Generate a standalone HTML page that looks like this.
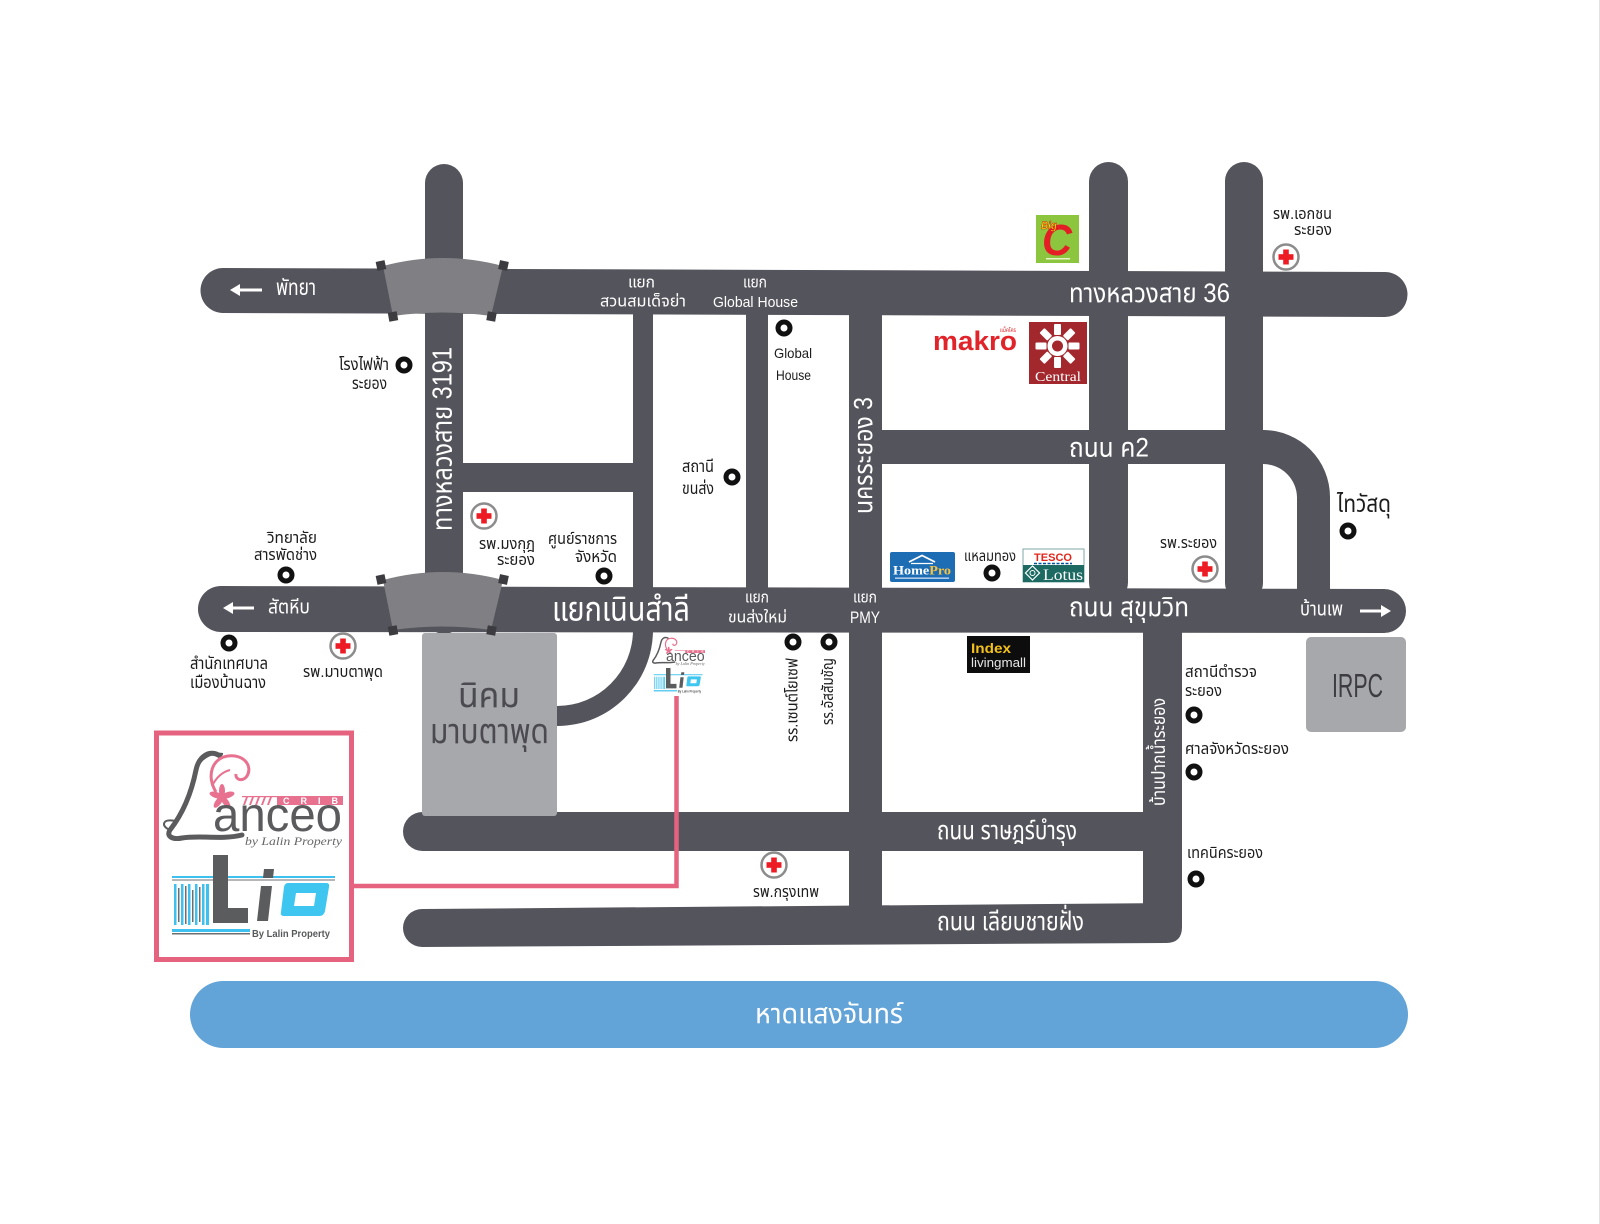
<!DOCTYPE html>
<html>
<head>
<meta charset="utf-8">
<style>
html,body{margin:0;padding:0;background:#fff;}
svg{display:block;}
.t{font-family:"Liberation Sans","Noto Sans Thai","Noto Sans Thai UI","Garuda","Loma","Waree","Norasi","Kinnari","Sawasdee","TlwgTypo","DejaVu Sans","Noto Sans CJK SC",sans-serif;}
.w{fill:#fff;}
.k{fill:#1c1c1c;}
</style>
</head>
<body>
<svg width="1600" height="1224" viewBox="0 0 1600 1224" xmlns="http://www.w3.org/2000/svg">
<rect x="0" y="0" width="1600" height="1224" fill="#fff"/>
<line x1="1599.5" y1="0" x2="1599.5" y2="1224" stroke="#e2e2e2" stroke-width="1"/>

<!-- ROADS -->
<g fill="#54545c">
  <!-- vertical roads -->
  <rect x="425" y="164" width="38" height="470" rx="19"/>
  <rect x="633" y="300" width="20" height="300"/>
  <rect x="746" y="300" width="22" height="300"/>
  <rect x="849" y="300" width="33" height="630"/>
  <rect x="1089" y="162" width="39" height="440" rx="19.5"/>
  <rect x="1225" y="162" width="38" height="440" rx="19"/>
  <rect x="1143" y="620" width="39" height="300"/>
  <!-- K2 + curve -->
  <rect x="849" y="430" width="416" height="34"/>
  <path d="M1263,430 A67,67 0 0 1 1330,497 L1330,600 L1297,600 L1297,497 A34,34 0 0 0 1263,464 Z"/>
  <!-- Map Ya -->
  <rect x="450" y="463" width="190" height="29"/>
  <!-- curve below Sukhumvit into Nikhom -->
  <path d="M633,620 L653,620 L653,630 A96,96 0 0 1 557,726 L557,706 A76,76 0 0 0 633,630 Z"/>
  <!-- Highway 36 -->
  <path d="M223,268 L1385,272 A22.5,22.5 0 0 1 1385,317 L223,313 A22.5,22.5 0 0 1 223,268 Z"/>
  <!-- Sukhumvit -->
  <path d="M221,586 L1384,589 A22,22 0 0 1 1384,633 L221,632 A23,23 0 0 1 221,586 Z"/>
  <!-- Rat Bamrung -->
  <rect x="403" y="812" width="760" height="39" rx="19.5"/>
  <!-- Liap Chai Fang -->
  <path d="M422,909 L1182,903 L1182,927 Q1182,943 1166,943 L422,947 A19,19 0 0 1 422,909 Z"/>
</g>

<!-- Nikhom box -->
<rect x="422" y="633" width="135" height="183" rx="3" fill="#a7a8ab"/>
<text class="t" x="458" y="707" font-size="35" fill="#4a4a50" textLength="62" lengthAdjust="spacingAndGlyphs">นิคม</text>
<text class="t" x="430" y="743" font-size="35" fill="#4a4a50" textLength="119" lengthAdjust="spacingAndGlyphs">มาบตาพุด</text>

<!-- IRPC box -->
<rect x="1306" y="637" width="100" height="95" rx="5" fill="#a7a8ab"/>
<text x="1332" y="697" font-family="Liberation Sans,sans-serif" font-size="33" fill="#3c3c42" textLength="51" lengthAdjust="spacingAndGlyphs">IRPC</text>

<!-- Bridges -->
<g>
  <path d="M383,266 Q443,250 503,266 L491,316 Q442,309 393,316 Z" fill="#808084"/>
  <g fill="#3b3b40">
    <rect x="376.5" y="261" width="9" height="9" transform="rotate(-12 381 265.5)"/>
    <rect x="499" y="261" width="9" height="9" transform="rotate(12 503.5 265.5)"/>
    <rect x="388.5" y="312" width="9" height="9" transform="rotate(-10 393 316.5)"/>
    <rect x="487" y="312" width="9" height="9" transform="rotate(10 491.5 316.5)"/>
  </g>
</g>
<g transform="translate(0,314)">
  <path d="M383,266 Q443,250 503,266 L491,316 Q442,309 393,316 Z" fill="#808084"/>
  <g fill="#3b3b40">
    <rect x="376.5" y="261" width="9" height="9" transform="rotate(-12 381 265.5)"/>
    <rect x="499" y="261" width="9" height="9" transform="rotate(12 503.5 265.5)"/>
    <rect x="388.5" y="312" width="9" height="9" transform="rotate(-10 393 316.5)"/>
    <rect x="487" y="312" width="9" height="9" transform="rotate(10 491.5 316.5)"/>
  </g>
</g>

<!-- Blue beach band -->
<rect x="190" y="981" width="1218" height="67" rx="33.5" fill="#62a3d8"/>
<text class="t w" x="755" y="1023" font-size="28" textLength="148" lengthAdjust="spacingAndGlyphs">หาดแสงจันทร์</text>

<!-- WHITE ROAD LABELS -->
<g>
  <path d="M262,290 H237" stroke="#fff" stroke-width="3"/>
  <polygon points="230,290 240,284 240,296" fill="#fff"/>
  <text class="t w" x="276" y="295" font-size="22" textLength="40" lengthAdjust="spacingAndGlyphs">พัทยา</text>

  <text class="t w" x="628" y="287.5" font-size="16" textLength="27" lengthAdjust="spacingAndGlyphs">แยก</text>
  <text class="t w" x="600" y="306.5" font-size="16" textLength="86" lengthAdjust="spacingAndGlyphs">สวนสมเด็จย่า</text>

  <text class="t w" x="743" y="287.5" font-size="16" textLength="24" lengthAdjust="spacingAndGlyphs">แยก</text>
  <text class="t w" x="713" y="307" font-size="15" textLength="85" lengthAdjust="spacingAndGlyphs">Global House</text>

  <text class="t w" x="1069" y="302" font-size="27" textLength="161" lengthAdjust="spacingAndGlyphs">ทางหลวงสาย 36</text>
  <text class="t w" x="1069" y="456.5" font-size="27" textLength="80" lengthAdjust="spacingAndGlyphs">ถนน ค2</text>

  <path d="M254,608 H230" stroke="#fff" stroke-width="3"/>
  <polygon points="223,608 233,602 233,614" fill="#fff"/>
  <text class="t w" x="268" y="613.5" font-size="20" textLength="42" lengthAdjust="spacingAndGlyphs">สัตหีบ</text>

  <text class="t w" x="552" y="620.5" font-size="34" textLength="138" lengthAdjust="spacingAndGlyphs">แยกเนินสำลี</text>

  <text class="t w" x="745" y="602.5" font-size="16" textLength="24" lengthAdjust="spacingAndGlyphs">แยก</text>
  <text class="t w" x="728" y="622.5" font-size="16" textLength="59" lengthAdjust="spacingAndGlyphs">ขนส่งใหม่</text>

  <text class="t w" x="853" y="602.5" font-size="16" textLength="24" lengthAdjust="spacingAndGlyphs">แยก</text>
  <text class="t w" x="850" y="623" font-size="17" textLength="30" lengthAdjust="spacingAndGlyphs">PMY</text>

  <text class="t w" x="1069" y="616" font-size="27" textLength="120" lengthAdjust="spacingAndGlyphs">ถนน สุขุมวิท</text>

  <text class="t w" x="1300" y="615.5" font-size="20" textLength="43" lengthAdjust="spacingAndGlyphs">บ้านเพ</text>
  <path d="M1360,611 H1385" stroke="#fff" stroke-width="3"/>
  <polygon points="1391,611 1381,605 1381,617" fill="#fff"/>

  <text class="t w" x="937" y="839" font-size="26" textLength="140" lengthAdjust="spacingAndGlyphs">ถนน ราษฎร์บำรุง</text>
  <text class="t w" x="937" y="930" font-size="26" textLength="147" lengthAdjust="spacingAndGlyphs">ถนน เลียบชายฝั่ง</text>

  <text class="t w" transform="translate(451.5,439) rotate(-90)" text-anchor="middle" font-size="28" textLength="184" lengthAdjust="spacingAndGlyphs">ทางหลวงสาย 3191</text>
  <text class="t w" transform="translate(872,455.5) rotate(-90)" text-anchor="middle" font-size="26" textLength="117" lengthAdjust="spacingAndGlyphs">นครระยอง 3</text>
  <text class="t w" transform="translate(1165,752) rotate(-90)" text-anchor="middle" font-size="19" textLength="108" lengthAdjust="spacingAndGlyphs">บ้านปากน้ำระยอง</text>
</g>

<!-- BLACK LABELS -->
<g>
  <text class="t k" x="339" y="370" font-size="17" textLength="50" lengthAdjust="spacingAndGlyphs">โรงไฟฟ้า</text>
  <text class="t k" x="352" y="389" font-size="17" textLength="35" lengthAdjust="spacingAndGlyphs">ระยอง</text>

  <text x="774" y="358" font-family="Liberation Sans,sans-serif" font-size="14" fill="#1c1c1c" textLength="38" lengthAdjust="spacingAndGlyphs">Global</text>
  <text x="776" y="380" font-family="Liberation Sans,sans-serif" font-size="14" fill="#1c1c1c" textLength="35" lengthAdjust="spacingAndGlyphs">House</text>

  <text class="t k" x="682" y="472" font-size="17" textLength="32" lengthAdjust="spacingAndGlyphs">สถานี</text>
  <text class="t k" x="682" y="494" font-size="17" textLength="32" lengthAdjust="spacingAndGlyphs">ขนส่ง</text>

  <text class="t k" x="1273" y="219" font-size="16" textLength="59" lengthAdjust="spacingAndGlyphs">รพ.เอกชน</text>
  <text class="t k" x="1294" y="235" font-size="16" textLength="38" lengthAdjust="spacingAndGlyphs">ระยอง</text>

  <text class="t k" x="1337" y="512" font-size="24" textLength="54" lengthAdjust="spacingAndGlyphs">ไทวัสดุ</text>

  <text class="t k" x="1160" y="548" font-size="16" textLength="57" lengthAdjust="spacingAndGlyphs">รพ.ระยอง</text>

  <text class="t k" x="267" y="543" font-size="16" textLength="50" lengthAdjust="spacingAndGlyphs">วิทยาลัย</text>
  <text class="t k" x="254" y="560" font-size="16" textLength="63" lengthAdjust="spacingAndGlyphs">สารพัดช่าง</text>

  <text class="t k" x="479" y="549" font-size="16" textLength="56" lengthAdjust="spacingAndGlyphs">รพ.มงกุฎ</text>
  <text class="t k" x="497" y="565" font-size="16" textLength="38" lengthAdjust="spacingAndGlyphs">ระยอง</text>

  <text class="t k" x="548" y="544" font-size="16" textLength="69" lengthAdjust="spacingAndGlyphs">ศูนย์ราชการ</text>
  <text class="t k" x="575" y="562" font-size="16" textLength="42" lengthAdjust="spacingAndGlyphs">จังหวัด</text>

  <text class="t k" x="190" y="669" font-size="17" textLength="78" lengthAdjust="spacingAndGlyphs">สำนักเทศบาล</text>
  <text class="t k" x="190" y="688" font-size="17" textLength="76" lengthAdjust="spacingAndGlyphs">เมืองบ้านฉาง</text>

  <text class="t k" x="303" y="677" font-size="16" textLength="80" lengthAdjust="spacingAndGlyphs">รพ.มาบตาพุด</text>

  <text class="t k" x="964" y="561" font-size="15" textLength="52" lengthAdjust="spacingAndGlyphs">แหลมทอง</text>

  <text class="t k" x="1185" y="677" font-size="16" textLength="72" lengthAdjust="spacingAndGlyphs">สถานีตำรวจ</text>
  <text class="t k" x="1185" y="696" font-size="16" textLength="37" lengthAdjust="spacingAndGlyphs">ระยอง</text>

  <text class="t k" x="1185" y="754" font-size="16" textLength="104" lengthAdjust="spacingAndGlyphs">ศาลจังหวัดระยอง</text>
  <text class="t k" x="1187" y="858" font-size="16" textLength="76" lengthAdjust="spacingAndGlyphs">เทคนิคระยอง</text>
  <text class="t k" x="753" y="897" font-size="16" textLength="66" lengthAdjust="spacingAndGlyphs">รพ.กรุงเทพ</text>

  <text class="t k" transform="translate(797.5,700) rotate(-90)" text-anchor="middle" font-size="16" textLength="84" lengthAdjust="spacingAndGlyphs">รร.เซนต์โยเซฟ</text>
  <text class="t k" transform="translate(833,691.5) rotate(-90)" text-anchor="middle" font-size="16" textLength="67" lengthAdjust="spacingAndGlyphs">รร.อัสสัมชัญ</text>
</g>

<!-- DOTS -->
<g fill="#fff" stroke="#111" stroke-width="5">
  <circle cx="404" cy="365" r="6"/>
  <circle cx="784" cy="328" r="6"/>
  <circle cx="732" cy="477" r="6"/>
  <circle cx="1348" cy="531" r="6"/>
  <circle cx="286" cy="575" r="6"/>
  <circle cx="604" cy="576" r="6"/>
  <circle cx="992" cy="573" r="6"/>
  <circle cx="229" cy="643" r="6"/>
  <circle cx="793" cy="642" r="6"/>
  <circle cx="829" cy="642" r="6"/>
  <circle cx="1194" cy="715" r="6"/>
  <circle cx="1194" cy="772" r="6"/>
  <circle cx="1196" cy="879" r="6"/>
</g>

<!-- HOSPITAL CROSSES -->
<g>
  <g transform="translate(1286,257)"><circle r="12.5" fill="#fff" stroke="#8c8c8c" stroke-width="2.5"/><rect x="-7.5" y="-2.8" width="15" height="5.6" fill="#ed1c24"/><rect x="-2.8" y="-7.5" width="5.6" height="15" fill="#ed1c24"/></g>
  <g transform="translate(484,516)"><circle r="12.5" fill="#fff" stroke="#8c8c8c" stroke-width="2.5"/><rect x="-7.5" y="-2.8" width="15" height="5.6" fill="#ed1c24"/><rect x="-2.8" y="-7.5" width="5.6" height="15" fill="#ed1c24"/></g>
  <g transform="translate(1205,569)"><circle r="12.5" fill="#fff" stroke="#8c8c8c" stroke-width="2.5"/><rect x="-7.5" y="-2.8" width="15" height="5.6" fill="#ed1c24"/><rect x="-2.8" y="-7.5" width="5.6" height="15" fill="#ed1c24"/></g>
  <g transform="translate(343,646)"><circle r="12.5" fill="#fff" stroke="#8c8c8c" stroke-width="2.5"/><rect x="-7.5" y="-2.8" width="15" height="5.6" fill="#ed1c24"/><rect x="-2.8" y="-7.5" width="5.6" height="15" fill="#ed1c24"/></g>
  <g transform="translate(774,865)"><circle r="12.5" fill="#fff" stroke="#8c8c8c" stroke-width="2.5"/><rect x="-7.5" y="-2.8" width="15" height="5.6" fill="#ed1c24"/><rect x="-2.8" y="-7.5" width="5.6" height="15" fill="#ed1c24"/></g>
</g>

<!-- BIG C -->
<rect x="1036" y="215" width="43" height="48" fill="#8cc63f"/>
<text x="1042" y="255" font-family="Liberation Sans,sans-serif" font-weight="bold" font-style="italic" font-size="44" fill="#e31e24" textLength="30" lengthAdjust="spacingAndGlyphs">C</text>
<text x="1041" y="229" font-family="Liberation Sans,sans-serif" font-weight="bold" font-style="italic" font-size="11" fill="#ffe600" stroke="#c4161c" stroke-width="0.5" textLength="16" lengthAdjust="spacingAndGlyphs">Big</text>
<rect x="1046" y="258" width="24" height="1.5" fill="#e8f4c8"/>

<!-- MAKRO -->
<text x="933" y="350" font-family="Liberation Sans,sans-serif" font-weight="bold" font-size="27" fill="#e0242a" textLength="84" lengthAdjust="spacingAndGlyphs">makro</text>
<text class="t" x="1000" y="332" font-size="6" fill="#e0242a" textLength="16" lengthAdjust="spacingAndGlyphs">แม็คโคร</text>

<!-- CENTRAL -->
<rect x="1029" y="322" width="58" height="62" fill="#a3282e"/>
<g transform="translate(1057.5,346)" fill="#fff">
  <rect x="-3.5" y="-22" width="7" height="11" rx="1"/>
  <rect x="-3.5" y="-22" width="7" height="11" rx="1" transform="rotate(45)"/>
  <rect x="-3.5" y="-22" width="7" height="11" rx="1" transform="rotate(90)"/>
  <rect x="-3.5" y="-22" width="7" height="11" rx="1" transform="rotate(135)"/>
  <rect x="-3.5" y="-22" width="7" height="11" rx="1" transform="rotate(180)"/>
  <rect x="-3.5" y="-22" width="7" height="11" rx="1" transform="rotate(225)"/>
  <rect x="-3.5" y="-22" width="7" height="11" rx="1" transform="rotate(270)"/>
  <rect x="-3.5" y="-22" width="7" height="11" rx="1" transform="rotate(315)"/>
  <circle r="10"/>
  <circle r="5.5" fill="#a3282e"/>
</g>
<text x="1035" y="381" font-family="Liberation Serif,serif" font-size="14" fill="#fff" textLength="46" lengthAdjust="spacingAndGlyphs">Central</text>

<!-- HOMEPRO -->
<rect x="890" y="552" width="65" height="30" rx="2" fill="#1d6db5"/>
<polyline points="909,562 922,555.5 935,562" fill="none" stroke="#fff" stroke-width="1.8"/>
<line x1="911" y1="563.5" x2="933" y2="563.5" stroke="#fff" stroke-width="1.2"/>
<text x="893" y="574.5" font-family="Liberation Serif,serif" font-weight="bold" font-size="13" fill="#fff" textLength="58" lengthAdjust="spacingAndGlyphs">Home<tspan fill="#f9c23c">Pro</tspan></text>
<rect x="895" y="577.5" width="54" height="1.3" fill="#cfe0f3"/>

<!-- TESCO LOTUS -->
<rect x="1023" y="549" width="61" height="33" fill="#fff" stroke="#7fa9a5" stroke-width="1"/>
<rect x="1023" y="565" width="61" height="17" fill="#1d6a63"/>
<text x="1034" y="561" font-family="Liberation Sans,sans-serif" font-weight="bold" font-size="11" fill="#e1261c" textLength="38" lengthAdjust="spacingAndGlyphs">TESCO</text>
<line x1="1034" y1="563.5" x2="1072" y2="563.5" stroke="#00539f" stroke-width="1.5" stroke-dasharray="3,1.5"/>
<rect x="1027.5" y="568" width="10" height="10" fill="none" stroke="#fff" stroke-width="1.2" transform="rotate(45 1032.5 573)"/>
<circle cx="1032.5" cy="573" r="2.5" fill="none" stroke="#fff" stroke-width="1"/>
<text x="1043" y="580" font-family="Liberation Serif,serif" font-size="16" fill="#fff" textLength="40" lengthAdjust="spacingAndGlyphs">Lotus</text>

<!-- INDEX -->
<rect x="967" y="636" width="63" height="37" fill="#0d0d0d"/>
<text x="971" y="653" font-family="Liberation Sans,sans-serif" font-weight="bold" font-size="14" fill="#f4c11a" textLength="40" lengthAdjust="spacingAndGlyphs">Index</text>
<text x="971" y="667" font-family="Liberation Sans,sans-serif" font-size="13" fill="#e6e6e6" textLength="55" lengthAdjust="spacingAndGlyphs">livingmall</text>

<!-- PINK FRAME + CONNECTOR -->
<rect x="156.5" y="733" width="195" height="226.5" fill="none" stroke="#e6637f" stroke-width="5"/>
<polyline points="354,886 676.5,886 676.5,696" fill="none" stroke="#e6637f" stroke-width="4.5"/>

<!-- BIG LOGO -->
<g>
  <path d="M220,756 C210,749 199,756 196,770 C192,790 184,812 170,830 C166,836 172,840 182,838 C200,835 222,840 242,835" fill="none" stroke="#5b5b5e" stroke-width="5" stroke-linecap="round"/>
  <path d="M196,770 C200,759 210,752 223,754" fill="none" stroke="#5b5b5e" stroke-width="2"/>
  <path d="M170,830 C160,826 163,818 175,821" fill="none" stroke="#5b5b5e" stroke-width="2"/>
  <path d="M216,792 C206,776 212,758 228,756 C244,754 253,766 247,776 C243,782 235,780 236,774" fill="none" stroke="#e8718f" stroke-width="3"/>
  <path d="M212,786 C216,778 222,772 230,770" fill="none" stroke="#e8718f" stroke-width="2"/>
  <g fill="#e8718f" transform="translate(222,797)">
    <ellipse rx="3" ry="7" transform="rotate(0) translate(0,-6)"/>
    <ellipse rx="3" ry="7" transform="rotate(72) translate(0,-6)"/>
    <ellipse rx="3" ry="7" transform="rotate(144) translate(0,-6)"/>
    <ellipse rx="3" ry="7" transform="rotate(216) translate(0,-6)"/>
    <ellipse rx="3" ry="7" transform="rotate(288) translate(0,-6)"/>
  </g>
  <g fill="#e8718f">
    <polygon points="243,805 246,797 248,797 245,805"/>
    <polygon points="249,805 252,797 254,797 251,805"/>
    <polygon points="255,805 258,797 260,797 257,805"/>
    <polygon points="261,805 264,797 266,797 263,805"/>
    <polygon points="267,805 270,797 272,797 269,805"/>
    <rect x="242" y="796" width="101" height="1.2"/>
    <rect x="277" y="796" width="66" height="9"/>
  </g>
  <text x="283" y="804" font-family="Liberation Sans,sans-serif" font-weight="bold" font-size="9" fill="#fff" textLength="55" lengthAdjust="spacing">CRIB</text>
  <text x="213" y="831" font-family="Liberation Sans,sans-serif" font-size="48" fill="#5b5b5e" textLength="129" lengthAdjust="spacingAndGlyphs">anceo</text>
  <text x="245" y="845" font-family="Liberation Serif,serif" font-style="italic" font-size="12" fill="#666" textLength="97" lengthAdjust="spacingAndGlyphs">by Lalin Property</text>

  <rect x="172" y="876" width="163" height="2" fill="#3ec1ee"/>
  <rect x="172" y="879.5" width="163" height="1" fill="#6d6e70"/>
  <g>
    <rect x="174" y="884" width="2.5" height="41" fill="#3ec1ee"/>
    <rect x="178" y="888" width="1.5" height="34" fill="#6d6e70"/>
    <rect x="181" y="884" width="2.5" height="41" fill="#3ec1ee"/>
    <rect x="185" y="886" width="1.5" height="38" fill="#6d6e70"/>
    <rect x="188" y="884" width="2.5" height="41" fill="#3ec1ee"/>
    <rect x="192" y="890" width="1.5" height="32" fill="#6d6e70"/>
    <rect x="195" y="884" width="2.5" height="41" fill="#3ec1ee"/>
    <rect x="199" y="887" width="1.5" height="35" fill="#6d6e70"/>
    <rect x="202" y="884" width="2.5" height="41" fill="#3ec1ee"/>
    <rect x="206" y="884" width="3" height="41" fill="#3ec1ee"/>
  </g>
  <path d="M213,855 L228,855 L228,908 L248,908 L248,923 L213,923 Z" fill="#5b5c5e"/>
  <path d="M261,886 L272,886 L268,921 L257,921 Z" fill="#5b5c5e"/>
  <path d="M264,869 L274,869 L273,878 L263,878 Z" fill="#5b5c5e"/>
  <path d="M288,883 L326,883 Q330,883 329,887 L325,911 Q324,916 319,916 L284,916 Q280,916 281,912 L284,887 Q285,883 288,883 Z" fill="#3ec6f0"/>
  <path d="M296,893 L316,893 L314,906 L294,906 Z" fill="#fff"/>
  <rect x="172" y="929" width="78" height="3" fill="#3ec1ee"/>
  <rect x="172" y="933" width="78" height="1.5" fill="#6d6e70"/>
  <text x="252" y="937" font-family="Liberation Sans,sans-serif" font-weight="bold" font-size="10.5" fill="#58595b" textLength="78" lengthAdjust="spacingAndGlyphs">By Lalin Property</text>
</g>

<!-- SMALL LOGO (scaled copy) -->
<g transform="translate(651,635) scale(0.3) translate(-163,-745)">
  <path d="M220,756 C210,749 199,756 196,770 C192,790 184,812 170,830 C166,836 172,840 182,838 C200,835 222,840 242,835" fill="none" stroke="#5b5b5e" stroke-width="5" stroke-linecap="round"/>
  <path d="M216,792 C206,776 212,758 228,756 C244,754 253,766 247,776 C243,782 235,780 236,774" fill="none" stroke="#e8718f" stroke-width="4"/>
  <g fill="#e8718f" transform="translate(222,797)">
    <ellipse rx="3" ry="7" transform="rotate(0) translate(0,-6)"/>
    <ellipse rx="3" ry="7" transform="rotate(72) translate(0,-6)"/>
    <ellipse rx="3" ry="7" transform="rotate(144) translate(0,-6)"/>
    <ellipse rx="3" ry="7" transform="rotate(216) translate(0,-6)"/>
    <ellipse rx="3" ry="7" transform="rotate(288) translate(0,-6)"/>
  </g>
  <g fill="#e8718f">
    <rect x="242" y="796" width="101" height="2"/>
    <rect x="277" y="796" width="66" height="9"/>
  </g>
  <text x="283" y="804" font-family="Liberation Sans,sans-serif" font-weight="bold" font-size="9" fill="#fff" textLength="55" lengthAdjust="spacing">CRIB</text>
  <text x="213" y="831" font-family="Liberation Sans,sans-serif" font-size="48" fill="#5b5b5e" textLength="129" lengthAdjust="spacingAndGlyphs">anceo</text>
  <text x="245" y="845" font-family="Liberation Serif,serif" font-style="italic" font-size="12" fill="#666" textLength="97" lengthAdjust="spacingAndGlyphs">by Lalin Property</text>
  <rect x="172" y="876" width="163" height="3" fill="#3ec1ee"/>
  <g fill="#3ec1ee">
    <rect x="174" y="884" width="3" height="41"/>
    <rect x="181" y="884" width="3" height="41"/>
    <rect x="188" y="884" width="3" height="41"/>
    <rect x="195" y="884" width="3" height="41"/>
    <rect x="202" y="884" width="3" height="41"/>
    <rect x="207" y="884" width="3" height="41"/>
  </g>
  <path d="M213,855 L228,855 L228,908 L248,908 L248,923 L213,923 Z" fill="#5b5c5e"/>
  <path d="M261,886 L272,886 L268,921 L257,921 Z" fill="#5b5c5e"/>
  <path d="M264,869 L274,869 L273,878 L263,878 Z" fill="#5b5c5e"/>
  <path d="M288,883 L326,883 Q330,883 329,887 L325,911 Q324,916 319,916 L284,916 Q280,916 281,912 L284,887 Q285,883 288,883 Z" fill="#3ec6f0"/>
  <path d="M296,893 L316,893 L314,906 L294,906 Z" fill="#fff"/>
  <rect x="172" y="929" width="78" height="4" fill="#3ec1ee"/>
  <text x="252" y="937" font-family="Liberation Sans,sans-serif" font-weight="bold" font-size="10.5" fill="#58595b" textLength="78" lengthAdjust="spacingAndGlyphs">By Lalin Property</text>
</g>

</svg>
</body>
</html>
